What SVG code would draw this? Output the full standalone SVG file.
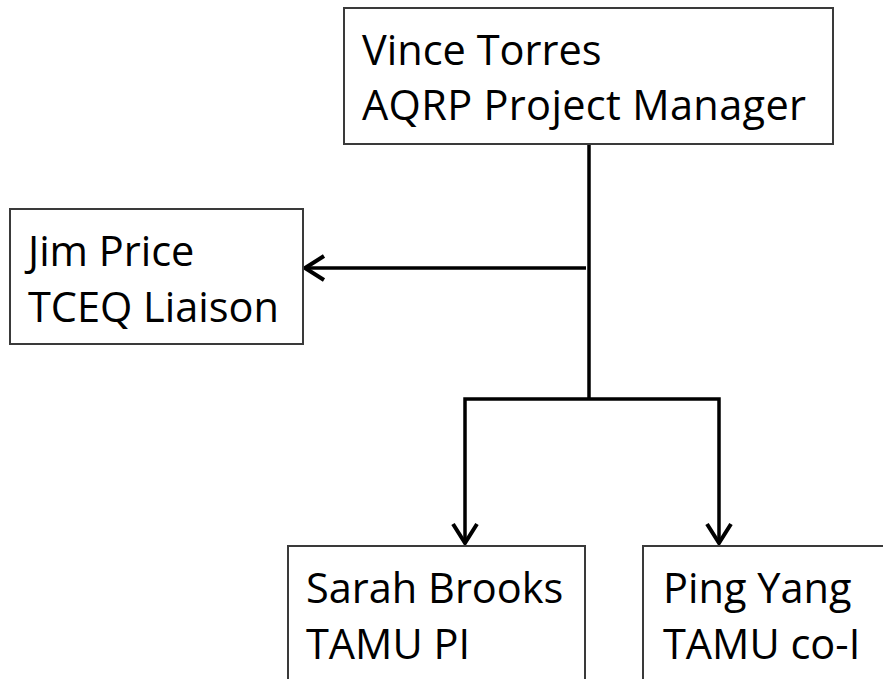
<svg xmlns="http://www.w3.org/2000/svg" width="883" height="679" viewBox="0 0 883 679">
<style>
.box{fill:#fff;stroke:#3a3a3a;stroke-width:2}
.t{font-family:"Open Sans","Noto Sans","Liberation Sans",sans-serif;font-size:41.5px;fill:#000}
.c{fill:none;stroke:#000;stroke-width:3.5}
</style>
<defs>
<marker id="ah" markerUnits="userSpaceOnUse" viewBox="-24 -16 28 32" refX="0" refY="0" markerWidth="28" markerHeight="32" orient="auto">
<path d="M-19,-12 L0,0 L-19,12" fill="none" stroke="#000" stroke-width="4" stroke-linejoin="miter"/>
</marker>
</defs>
<rect width="883" height="679" fill="#fff"/>
<g id="connectors">
<path class="c" d="M589,144 V399"/>
<path class="c" d="M586,268 H305" marker-end="url(#ah)"/>
<path class="c" d="M589,399 H465 V543" marker-end="url(#ah)"/>
<path class="c" d="M589,399 H719 V543" marker-end="url(#ah)"/>
</g>
<g id="vince">
<rect class="box" x="344" y="8" width="489" height="136"/>
<text class="t" x="362" y="65">Vince Torres</text>
<text class="t" x="362" y="120" textLength="444" lengthAdjust="spacing">AQRP Project Manager</text>
</g>
<g id="jim">
<rect class="box" x="10" y="209" width="293" height="135"/>
<text class="t" x="28" y="266">Jim Price</text>
<text class="t" x="28" y="322">TCEQ Liaison</text>
</g>
<g id="sarah">
<rect class="box" x="288" y="546" width="297" height="150"/>
<text class="t" x="306" y="603">Sarah Brooks</text>
<text class="t" x="306" y="659">TAMU PI</text>
</g>
<g id="ping">
<rect class="box" x="643" y="546" width="260" height="150"/>
<text class="t" x="663" y="603">Ping Yang</text>
<text class="t" x="663" y="659">TAMU co-I</text>
</g>
</svg>
